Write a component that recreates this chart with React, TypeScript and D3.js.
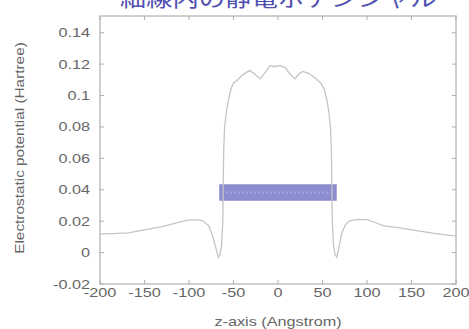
import React from "react";
import * as d3 from "d3";

const W = 469;
const H = 329;

const zValues = [
  -200, -180, -168, -150, -130, -112, -100, -90, -85, -78, -73, -69, -67, -65, -63.5, -62, -61.5, -61, -60, -58,
  -55, -53, -50, -46, -40, -32, -27, -20, -14, -9, -4, 2, 8, 13, 19, 24, 28, 35, 43, 48, 52, 55, 57, 59, 60, 60.5,
  61, 62.5, 64, 66, 68, 71.5, 76, 81, 90, 100, 110, 118, 137, 156, 175, 195, 200,
];
const potential = [
  0.0118, 0.0122, 0.0125, 0.0145, 0.0166, 0.0193, 0.0208, 0.0208, 0.0204, 0.0172, 0.0097, 0.0013, -0.003, -0.001,
  0.004, 0.02, 0.045, 0.065, 0.08, 0.09, 0.099, 0.104, 0.108, 0.1096, 0.113, 0.116, 0.114, 0.1106, 0.115, 0.119,
  0.1185, 0.119, 0.118, 0.114, 0.1106, 0.114, 0.1153, 0.114, 0.1106, 0.108, 0.104, 0.097, 0.09, 0.08, 0.065, 0.045,
  0.02, 0.004, -0.001, -0.003, 0.002, 0.012, 0.018, 0.0204, 0.0212, 0.021, 0.019, 0.0172, 0.0157, 0.014, 0.0123,
  0.0108, 0.0106,
];

const bandZ = [-66, 66];
const bandV = [0.033, 0.0435];

const xTicks = [-200, -150, -100, -50, 0, 50, 100, 150, 200];
const yTicks = [-0.02, 0, 0.02, 0.04, 0.06, 0.08, 0.1, 0.12, 0.14];
const yTickLabels = ["-0.02", "0", "0.02", "0.04", "0.06", "0.08", "0.1", "0.12", "0.14"];

const title = "細線内の静電ポテンシャル";
const xLabel = "z-axis (Angstrom)";
const yLabel = "Electrostatic potential (Hartree)";

export default function App() {
  const left = 100, right = 456, top = 16, bottom = 284;
  const x = d3.scaleLinear().domain([-200, 200]).range([left, right]);
  const y = d3.scaleLinear().domain([-0.02, 0.15]).range([bottom, 17]);
  const pts: [number, number][] = zValues.map((z, i) => [z, potential[i]]);
  const line = d3
    .line<[number, number]>()
    .x((d) => x(d[0]))
    .y((d) => y(d[1]));
  const font = "'Liberation Sans', Arial, sans-serif";
  const gray = "#666";
  const sx = 1.25;
  return (
    <svg
      width={W}
      height={H}
      style={{ position: "absolute", left: 0, top: 0, display: "block", background: "#fff" }}
    >
      <rect x={0} y={0} width={W} height={H} fill="#fff" />
      <text
        transform={`translate(278,6) scale(1.2,1)`}
        textAnchor="middle"
        fontFamily="'Noto Sans CJK JP', sans-serif"
        fontSize={22}
        fill="#5050b0"
      >
        {title}
      </text>
      {/* band */}
      <rect
        x={x(bandZ[0])}
        y={y(bandV[1])}
        width={x(bandZ[1]) - x(bandZ[0])}
        height={y(bandV[0]) - y(bandV[1])}
        fill="#8c8cd0"
      />
      <line
        x1={x(bandZ[0]) + 3}
        x2={x(bandZ[1]) - 3}
        y1={y((bandV[0] + bandV[1]) / 2)}
        y2={y((bandV[0] + bandV[1]) / 2)}
        stroke="#a8a8dc"
        strokeWidth={2}
        strokeDasharray="2,2"
      />
      {/* curve */}
      <path d={line(pts) || ""} fill="none" stroke="#c4c4c4" strokeWidth={1.3} />
      {/* frame */}
      <rect x={left} y={top} width={right - left} height={bottom - top} fill="none" stroke="#c0c0c0" strokeWidth={1.5} />
      {xTicks.map((t) => (
        <g key={"x" + t}>
          <line x1={x(t)} x2={x(t)} y1={bottom} y2={bottom - 4} stroke="#b0b0b0" />
          <line x1={x(t)} x2={x(t)} y1={top} y2={top + 4} stroke="#b0b0b0" />
          <text
            transform={`translate(${x(t)},297) scale(${sx},1)`}
            textAnchor="middle"
            fontFamily={font}
            fontSize={13}
            fill={gray}
          >
            {t}
          </text>
        </g>
      ))}
      {yTicks.map((t, i) => (
        <g key={"y" + t}>
          <line x1={left} x2={left + 4} y1={y(t)} y2={y(t)} stroke="#b0b0b0" />
          <line x1={right} x2={right - 4} y1={y(t)} y2={y(t)} stroke="#b0b0b0" />
          <text
            transform={`translate(90,${y(t) + 4.5}) scale(${sx},1)`}
            textAnchor="end"
            fontFamily={font}
            fontSize={13}
            fill={gray}
          >
            {yTickLabels[i]}
          </text>
        </g>
      ))}
      <text
        transform={`translate(278,326) scale(${sx},1)`}
        textAnchor="middle"
        fontFamily={font}
        fontSize={13}
        fill={gray}
      >
        {xLabel}
      </text>
      <text
        transform={`translate(24,148) rotate(-90) scale(1.28,1.08)`}
        textAnchor="middle"
        fontFamily={font}
        fontSize={12}
        fill={gray}
      >
        {yLabel}
      </text>
    </svg>
  );
}
